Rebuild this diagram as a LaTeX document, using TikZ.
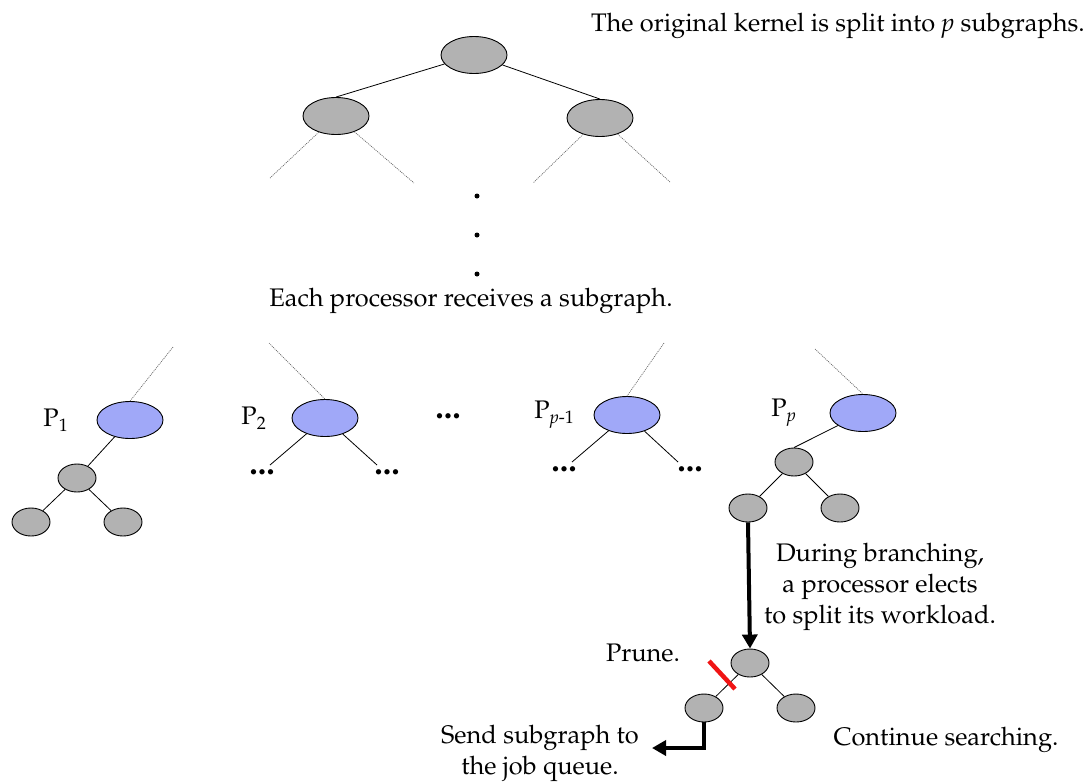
\documentclass[tikz,border=0pt]{standalone}
\usepackage[T1]{fontenc}
\usepackage{mathpazo}
\usetikzlibrary{shapes.geometric,arrows.meta}
\definecolor{nodegray}{RGB}{178,178,178}
\definecolor{procblue}{RGB}{160,168,248}
\definecolor{cutred}{RGB}{240,20,20}
\tikzset{
  treenode/.style={ellipse, draw=black, line width=0.9pt, fill=nodegray, inner sep=0pt},
  big/.style={treenode, minimum width=66pt, minimum height=37pt},
  small/.style={treenode, minimum width=38pt, minimum height=28pt},
  proc/.style={big, fill=procblue},
  edge/.style={line width=0.8pt},
  faint/.style={draw=black!60, line width=0.7pt, dash pattern=on 1pt off 1pt},
  thickarrow/.style={line width=4pt, -{Triangle[length=14pt,width=15pt]}},
  caption/.style={font=\fontsize{25.4}{31}\selectfont, inner sep=0pt, align=center},
  more/.style={font=\fontsize{34}{34}\selectfont\bfseries, inner sep=0pt},
  vdot/.style={circle, fill=black, inner sep=0pt, minimum size=5pt}
}
\newcommand{\sublabel}[1]{\raisebox{-0.4ex}{\fontsize{18}{18}\selectfont #1}}
\begin{document}
\begin{tikzpicture}[x=1pt,y=-1pt]
\useasboundingbox (0,0) rectangle (1091,782);

% top of the search tree
\node[big] (root) at (474,55) {};
\node[big] (lc) at (336,116) {};
\node[big] (rc) at (600,118) {};
\draw[edge] (root) -- (lc.north);
\draw[edge] (root) -- (rc.north);

\coordinate (lca) at (270,178);
\coordinate (lcb) at (414,183);
\coordinate (rca) at (533,183);
\coordinate (rcb) at (670,182);
\draw[faint] (lc) -- (lca);
\draw[faint] (lc) -- (lcb);
\draw[faint] (rc) -- (rca);
\draw[faint] (rc) -- (rcb);

\node[caption, anchor=base east] (title) at (1085,31)
  {The original kernel is split into \textit{p} subgraphs.};

\node[vdot] (d1) at (477,196) {};
\node[vdot] (d2) at (477,235) {};
\node[vdot] (d3) at (477,274) {};

\node[caption] (each) at (471,301) {Each processor receives a subgraph.};

% one subgraph per processor
\node[proc] (p1) at (130,420) {};
\node[proc] (p2) at (325,418) {};
\node[proc] (pq) at (627,415) {};
\node[proc] (pp) at (863,413) {};

\coordinate (u1) at (173,347);
\coordinate (u2) at (269,343);
\coordinate (u3) at (664,343);
\coordinate (u4) at (815,349);
\draw[faint] (u1) -- (p1.north);
\draw[faint] (u2) -- (p2.north);
\draw[faint] (u3) -- (pq.north);
\draw[faint] (u4) -- (pp.north);

\node[caption, anchor=east] (l1) at (68,420) {P\sublabel{1}};
\node[caption, anchor=east] (l2) at (266,418) {P\sublabel{2}};
\node[caption, anchor=east] (lq) at (574,415) {P\sublabel{\textit{p}-1}};
\node[caption, anchor=east] (lp) at (796,413) {P\sublabel{\textit{p}}};
\node[more] (mid) at (448,416) {...};

% processor 1
\node[small] (a) at (77,478) {};
\node[small] (a1) at (31,522) {};
\node[small] (a2) at (123,522) {};
\draw[edge] (p1) -- (a);
\draw[edge] (a) -- (a1);
\draw[edge] (a) -- (a2);

% processor 2
\node[more] (b1) at (262,472) {...};
\node[more] (b2) at (387,472) {...};
\coordinate (b1e) at (270,465);
\coordinate (b2e) at (377,465);
\draw[edge] (p2) -- (b1e);
\draw[edge] (p2) -- (b2e);

% processor p-1
\node[more] (c1) at (564,469) {...};
\node[more] (c2) at (690,469) {...};
\coordinate (c1e) at (572,462);
\coordinate (c2e) at (678,462);
\draw[edge] (pq) -- (c1e);
\draw[edge] (pq) -- (c2e);

% processor p
\node[small] (e) at (794,462) {};
\node[small] (e1) at (748,508) {};
\node[small] (e2) at (840,508) {};
\draw[edge] (pp) -- (e.north);
\draw[edge] (e) -- (e1);
\draw[edge] (e) -- (e2);

% splitting the workload
\node[small] (f) at (750,663) {};
\node[small] (f1) at (704,708) {};
\node[small] (f2) at (796,708) {};
\draw[edge] (f) -- (f1);
\draw[edge] (f) -- (f2);
\draw[thickarrow] (e1.south) -- (f.north);

\coordinate (cuta) at (709,661);
\coordinate (cutb) at (735,689);
\draw[cutred, line width=4.5pt] (cuta) -- (cutb);

\coordinate (jq) at (652,748);
\draw[thickarrow] (f1.south) |- (jq);

\node[caption] (split) at (880,587)
  {During branching,\\a processor elects\\to split its workload.};
\node[caption] (prune) at (643,653) {Prune.};
\node[caption] (send) at (540,753) {Send subgraph to\\the job queue.};
\node[caption] (cont) at (946,740) {Continue searching.};
\end{tikzpicture}
\end{document}
